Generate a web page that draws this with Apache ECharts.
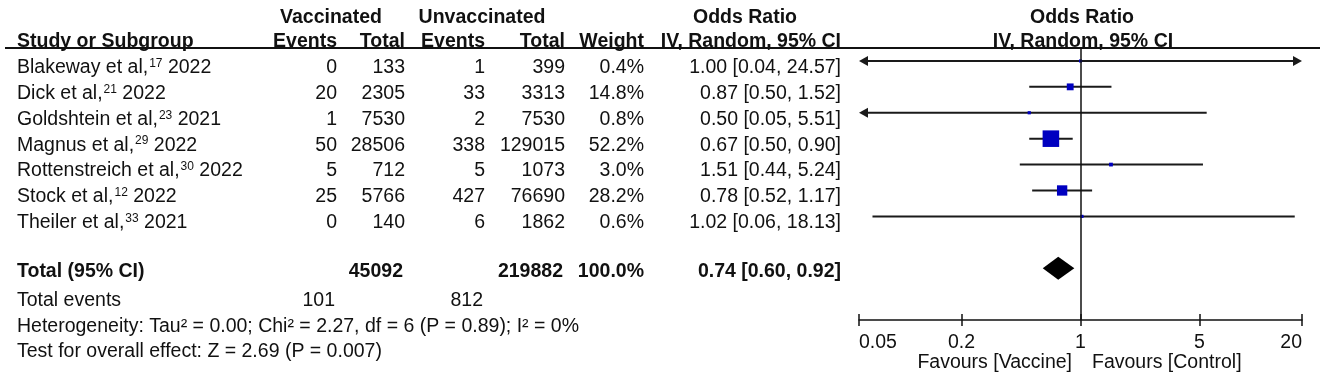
<!DOCTYPE html>
<html>
<head>
<meta charset="utf-8">
<script src="https://cdn.jsdelivr.net/npm/echarts@6/dist/echarts.min.js"></script>
<style>
  html, body { margin: 0; padding: 0; background: #fff; }
  #forest { width: 1325px; height: 384px; }
</style>
</head>
<body>
<div id="forest"></div>
<script>
// study rows
const studyNames = ['Blakeway et al,', 'Dick et al,', 'Goldshtein et al,', 'Magnus et al,',
	'Rottenstreich et al,', 'Stock et al,', 'Theiler et al,'];
const studyRefs = ['17', '21', '23', '29', '30', '12', '33'];
const studyYears = ['2022', '2022', '2021', '2022', '2022', '2022', '2021'];
const vacEvents = [0, 20, 1, 50, 5, 25, 0];
const vacTotal = [133, 2305, 7530, 28506, 712, 5766, 140];
const unvacEvents = [1, 33, 2, 338, 5, 427, 6];
const unvacTotal = [399, 3313, 7530, 129015, 1073, 76690, 1862];
const weights = [0.4, 14.8, 0.8, 52.2, 3.0, 28.2, 0.6];
const orEst = [1.00, 0.87, 0.50, 0.67, 1.51, 0.78, 1.02];
const orLow = [0.04, 0.50, 0.05, 0.50, 0.44, 0.52, 0.06];
const orHigh = [24.57, 1.52, 5.51, 0.90, 5.24, 1.17, 18.13];

// pooled result: estimate, lower, upper
const pooled = [0.74, 0.60, 0.92];
const totalVac = 45092, totalUnvac = 219882;
const totalEventsVac = 101, totalEventsUnvac = 812;

// axis
const tickValues = [0.05, 0.2, 1, 5, 20];
const tickLabels = ['0.05', '0.2', '1', '5', '20'];

const FONT = '"Liberation Sans", Arial, sans-serif';
const INK = '#111';
const pooledRow = 8;

const fmt = (v) => v.toFixed(2);

var chart = echarts.init(document.getElementById('forest'));

var axisLabelFmt = (v) => {
	for (var i = 0; i < tickValues.length; i++) {
		if (Math.abs(v / tickValues[i] - 1) < 1e-6) return tickLabels[i];
	}
	return '';
};

var option = {
	animation: false,
	grid: { left: 859, right: 23, top: 48, bottom: 64 },
	xAxis: [{
		type: 'log',
		logBase: 10,
		min: tickValues[0],
		max: tickValues[tickValues.length - 1],
		position: 'bottom',
		axisLine: { show: true, onZero: false, lineStyle: { color: INK, width: 1.5 } },
		axisTick: { show: true, customValues: tickValues, length: 6, lineStyle: { color: INK, width: 1.5 } },
		axisLabel: {
			customValues: tickValues, formatter: axisLabelFmt, margin: 13,
			fontSize: 19.5, fontFamily: FONT, color: INK,
			alignMinLabel: 'left', alignMaxLabel: 'right'
		},
		splitLine: { show: false }
	}, {
		// inner half of the ticks
		type: 'log',
		logBase: 10,
		min: tickValues[0],
		max: tickValues[tickValues.length - 1],
		position: 'bottom',
		axisLine: { show: false, onZero: false },
		axisTick: { show: true, inside: true, customValues: tickValues, length: 6, lineStyle: { color: INK, width: 1.5 } },
		axisLabel: { show: false },
		splitLine: { show: false }
	}],
	yAxis: {
		type: 'value',
		inverse: true,
		min: -0.5,
		max: 10,
		show: false
	},
	series: [{
		type: 'custom',
		name: 'ci',
		encode: { x: [0, 1], y: 2 },
		data: orLow.map((lo, i) => [lo, orHigh[i], i]),
		renderItem: function (params, api) {
			var cs = params.coordSys;
			var row = api.value(2);
			var pLo = api.coord([api.value(0), row]);
			var pHi = api.coord([api.value(1), row]);
			var y = pLo[1];
			var x1 = Math.max(pLo[0], cs.x);
			var x2 = Math.min(pHi[0], cs.x + cs.width);
			var arrowL = pLo[0] <= cs.x + 0.5;
			var arrowR = pHi[0] >= cs.x + cs.width - 0.5;
			var kids = [{
				type: 'line',
				shape: { x1: x1 + (arrowL ? 6 : 0), y1: y, x2: x2 - (arrowR ? 6 : 0), y2: y },
				style: { stroke: '#1a1a1a', lineWidth: 2 }
			}];
			if (arrowL) kids.push({
				type: 'polygon',
				shape: { points: [[x1, y], [x1 + 9, y - 5], [x1 + 9, y + 5]] },
				style: { fill: '#1a1a1a' }
			});
			if (arrowR) kids.push({
				type: 'polygon',
				shape: { points: [[x2, y], [x2 - 9, y - 5], [x2 - 9, y + 5]] },
				style: { fill: '#1a1a1a' }
			});
			return { type: 'group', children: kids };
		},
		markLine: {
			silent: true,
			symbol: 'none',
			label: { show: false },
			lineStyle: { color: INK, width: 1.5, type: 'solid' },
			data: [{ xAxis: 1 }]
		},
		z: 2
	}, {
		type: 'scatter',
		name: 'study',
		symbol: 'rect',
		symbolSize: (val) => 3 + 0.26 * val[2],
		itemStyle: { color: '#0000C0', opacity: 1 },
		data: orEst.map((v, i) => [v, i, weights[i]]),
		z: 3
	}, {
		type: 'custom',
		name: 'pooled',
		encode: { x: [0, 1, 2], y: 3 },
		data: [[pooled[1], pooled[0], pooled[2], pooledRow]],
		renderItem: function (params, api) {
			var row = api.value(3);
			var pL = api.coord([api.value(0), row]);
			var pM = api.coord([api.value(1), row]);
			var pR = api.coord([api.value(2), row]);
			var h = 11.5;
			return {
				type: 'polygon',
				shape: { points: [[pL[0], pL[1]], [pM[0], pM[1] - h], [pR[0], pR[1]], [pM[0], pM[1] + h]] },
				style: { fill: '#000' }
			};
		},
		z: 3
	}]
};

chart.setOption(option);

// table text, positioned on the same rows as the plot
var rowY = (r) => chart.convertToPixel({ yAxisIndex: 0 }, r);

var supStyle = { s: { fontSize: 12, fontFamily: FONT, color: INK, verticalAlign: 'top', padding: [0, 0, 0, 1] } };

var txt = (text, x, y, align, bold, rich) => ({
	type: 'text',
	x: x,
	y: y,
	silent: true,
	style: {
		text: String(text),
		font: (bold ? 'bold ' : '') + '19.5px ' + FONT,
		fill: INK,
		align: align, textAlign: align,
		verticalAlign: 'middle', textVerticalAlign: 'middle',
		rich: rich
	}
});

var cols = { name: 17, evV: 337, totV: 405, evU: 485, totU: 565, weight: 644, ci: 841 };
var g = [];

// headers
g.push(txt('Vaccinated', 331, 17.5, 'center', true));
g.push(txt('Unvaccinated', 482, 17.5, 'center', true));
g.push(txt('Odds Ratio', 745, 17.5, 'center', true));
g.push(txt('Odds Ratio', 1082, 17.5, 'center', true));
g.push(txt('Study or Subgroup', cols.name, 41.5, 'left', true));
g.push(txt('Events', cols.evV, 41.5, 'right', true));
g.push(txt('Total', cols.totV, 41.5, 'right', true));
g.push(txt('Events', cols.evU, 41.5, 'right', true));
g.push(txt('Total', cols.totU, 41.5, 'right', true));
g.push(txt('Weight', cols.weight, 41.5, 'right', true));
g.push(txt('IV, Random, 95% CI', cols.ci, 41.5, 'right', true));
g.push(txt('IV, Random, 95% CI', 1083, 41.5, 'center', true));
g.push({
	type: 'line', silent: true,
	shape: { x1: 5, y1: 48, x2: 1320, y2: 48 },
	style: { stroke: INK, lineWidth: 2 }
});

studyNames.forEach((s, i) => {
	var y = rowY(i) + 6.5;
	g.push(txt(s + '{s|' + studyRefs[i] + '} ' + studyYears[i], cols.name, y, 'left', false, supStyle));
	g.push(txt(vacEvents[i], cols.evV, y, 'right'));
	g.push(txt(vacTotal[i], cols.totV, y, 'right'));
	g.push(txt(unvacEvents[i], cols.evU, y, 'right'));
	g.push(txt(unvacTotal[i], cols.totU, y, 'right'));
	g.push(txt(weights[i].toFixed(1) + '%', cols.weight, y, 'right'));
	g.push(txt(fmt(orEst[i]) + ' [' + fmt(orLow[i]) + ', ' + fmt(orHigh[i]) + ']', cols.ci, y, 'right'));
});

var ty = rowY(pooledRow) + 3;
g.push(txt('Total (95% CI)', cols.name, ty, 'left', true));
g.push(txt(totalVac, cols.totV - 2, ty, 'right', true));
g.push(txt(totalUnvac, cols.totU - 2, ty, 'right', true));
g.push(txt('100.0%', cols.weight, ty, 'right', true));
g.push(txt(fmt(pooled[0]) + ' [' + fmt(pooled[1]) + ', ' + fmt(pooled[2]) + ']', cols.ci, ty, 'right', true));

g.push(txt('Total events', cols.name, 301, 'left'));
g.push(txt(totalEventsVac, cols.evV - 2, 301, 'right'));
g.push(txt(totalEventsUnvac, cols.evU - 2, 301, 'right'));
g.push(txt('Heterogeneity: Tau² = 0.00; Chi² = 2.27, df = 6 (P = 0.89); I² = 0%', cols.name, 327, 'left'));
g.push(txt('Test for overall effect: Z = 2.69 (P = 0.007)', cols.name, 352, 'left'));

g.push(txt('Favours [Vaccine]', 1072, 363, 'right'));
g.push(txt('Favours [Control]', 1092, 363, 'left'));

chart.setOption({ graphic: g });
</script>
</body>
</html>
